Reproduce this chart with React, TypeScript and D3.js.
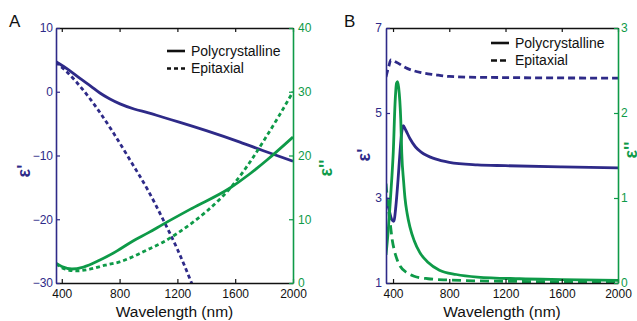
import React, { useRef, useEffect } from 'react';
import * as d3 from 'd3';

type Pt = [number, number];

// panel A: wavelength (nm) vs permittivity
const polyRealA: Pt[] = [
  [360, 4.7], [450, 3.4], [526, 2.1], [600, 0.9], [664, -0.2], [730, -1.1], [803, -1.9],
  [900, -2.7], [1000, -3.3], [1100, -4.0], [1218, -4.8], [1400, -6.1], [1633, -7.9],
  [1800, -9.3], [2000, -10.9],
];
const epiRealA: Pt[] = [
  [360, 4.6], [436, 3.1], [547, 0.3], [650, -2.8], [750, -6.2], [872, -10.7], [1000, -15.6],
  [1100, -20.0], [1200, -24.7], [1300, -30.1],
];
const polyImagA: Pt[] = [
  [360, 3.1], [400, 2.6], [470, 2.2], [550, 2.5], [664, 3.6], [780, 5.0], [893, 6.6],
  [1000, 7.9], [1100, 9.2], [1300, 11.7], [1564, 14.9], [1700, 17.1], [1820, 19.3], [2000, 22.9],
];
const epiImagA: Pt[] = [
  [360, 3.0], [420, 2.2], [500, 1.9], [600, 2.2], [700, 2.8], [800, 3.3], [900, 4.2],
  [1000, 5.3], [1100, 6.4], [1200, 7.8], [1300, 9.4], [1400, 11.2], [1500, 13.3],
  [1600, 15.8], [1700, 18.9], [1800, 22.4], [1900, 26.1], [2000, 30.0],
];

// panel B
const polyRealB: Pt[] = [
  [350, 3.0], [370, 2.75], [390, 2.5], [405, 2.45], [420, 2.8], [435, 3.4], [450, 4.1],
  [462, 4.55], [472, 4.7], [490, 4.6], [520, 4.4], [560, 4.2], [600, 4.08], [700, 3.92],
  [800, 3.84], [1000, 3.78], [1200, 3.76], [1600, 3.73], [2000, 3.71],
];
const epiRealB: Pt[] = [
  [350, 5.85], [370, 6.1], [385, 6.25], [420, 6.2], [500, 6.05], [600, 5.95], [700, 5.9],
  [800, 5.86], [1000, 5.84], [2000, 5.82],
];
const polyImagB: Pt[] = [
  [350, 0.33], [365, 0.6], [378, 0.9], [390, 1.2], [402, 1.55], [414, 2.1], [425, 2.35],
  [432, 2.37], [440, 2.3], [455, 1.92], [462, 1.53], [475, 1.2], [485, 1.0], [500, 0.82],
  [520, 0.66], [550, 0.5], [590, 0.36], [650, 0.24], [730, 0.15], [850, 0.1], [1000, 0.07],
  [1300, 0.05], [1600, 0.04], [2000, 0.03],
];
const epiImagB: Pt[] = [
  [350, 1.17], [365, 0.9], [380, 0.7], [395, 0.5], [410, 0.38], [430, 0.27], [450, 0.2],
  [500, 0.12], [550, 0.08], [650, 0.05], [800, 0.035], [1000, 0.025], [1500, 0.015], [2000, 0.01],
];

const xTicks = [400, 800, 1200, 1600, 2000];
const leftTicksA = [-30, -20, -10, 0, 10];
const rightTicksA = [0, 10, 20, 30, 40];
const leftTicksB = [1, 3, 5, 7];
const rightTicksB = [0, 1, 2, 3];
const legendLabels = ['Polycrystalline', 'Epitaxial'];

const blue = '#2e2a88';
const green = '#0e9a48';
const font = 'Liberation Sans, Arial, sans-serif';
const fmt = d3.format('d');

interface Panel {
  id: string;
  letter: string;
  letterX: number;
  box: { left: number; right: number; top: number; bottom: number };
  xDomain: [number, number];
  yLeft: [number, number];
  yRight: [number, number];
  leftTicks: number[];
  rightTicks: number[];
  leftPad: number;
  rightPad: number;
  series: { data: Pt[]; axis: 'L' | 'R'; dash: string | null }[];
  dash: string;
  legendX: number;
  legendY: number;
  leftLabel: [number, number];
  rightLabel: [number, number];
}

const panels: Panel[] = [
  {
    id: 'A', letter: 'A', letterX: 9,
    box: { left: 56, right: 293, top: 28, bottom: 283 },
    xDomain: [360, 2000], yLeft: [-30, 10], yRight: [0, 40],
    leftTicks: leftTicksA, rightTicks: rightTicksA, leftPad: 3, rightPad: 5,
    series: [
      { data: polyRealA, axis: 'L', dash: null },
      { data: epiRealA, axis: 'L', dash: '4,3' },
      { data: polyImagA, axis: 'R', dash: null },
      { data: epiImagA, axis: 'R', dash: '4,3' },
    ],
    dash: '4,3', legendX: 167, legendY: 51,
    leftLabel: [24, 171], rightLabel: [326, 168],
  },
  {
    id: 'B', letter: 'B', letterX: 344,
    box: { left: 386, right: 618, top: 28, bottom: 283 },
    xDomain: [350, 2000], yLeft: [1, 7], yRight: [0, 3],
    leftTicks: leftTicksB, rightTicks: rightTicksB, leftPad: 4, rightPad: 3,
    series: [
      { data: polyRealB, axis: 'L', dash: null },
      { data: epiRealB, axis: 'L', dash: '7,4' },
      { data: polyImagB, axis: 'R', dash: null },
      { data: epiImagB, axis: 'R', dash: '9,5' },
    ],
    dash: '6,3', legendX: 491, legendY: 43,
    leftLabel: [364, 155], rightLabel: [631, 150],
  },
];

const App: React.FC = () => {
  const svgRef = useRef<SVGSVGElement | null>(null);

  useEffect(() => {
    const svg = d3.select(svgRef.current);
    svg.selectAll('*').remove();

    panels.forEach(p => {
      const { left, right, top, bottom } = p.box;
      const x = d3.scaleLinear().domain(p.xDomain).range([left, right]);
      const yL = d3.scaleLinear().domain(p.yLeft).range([bottom, top]);
      const yR = d3.scaleLinear().domain(p.yRight).range([bottom, top]);

      svg.append('clipPath').attr('id', `clip${p.id}`)
        .append('rect')
        .attr('x', left).attr('y', top)
        .attr('width', right - left).attr('height', bottom - top);

      const g = svg.append('g').attr('clip-path', `url(#clip${p.id})`);
      p.series.forEach(s => {
        const y = s.axis === 'L' ? yL : yR;
        const line = d3.line<Pt>()
          .x(d => x(d[0]))
          .y(d => y(d[1]))
          .curve(d3.curveMonotoneX);
        g.append('path')
          .attr('d', line(s.data))
          .attr('fill', 'none')
          .attr('stroke', s.axis === 'L' ? blue : green)
          .attr('stroke-width', 2.8)
          .attr('stroke-dasharray', s.dash)
          .attr('stroke-linejoin', 'round');
      });

      const style = (sel: d3.Selection<SVGGElement, unknown, null, undefined>, color: string) => {
        sel.attr('color', color)
          .attr('font-family', font)
          .attr('font-size', 12);
        sel.selectAll('path.domain').attr('stroke-width', 1.6);
        sel.selectAll('.tick line').attr('stroke-width', 1.2);
        sel.selectAll('.tick text').attr('fill', color);
      };

      const xBottom = svg.append('g').attr('transform', `translate(0,${bottom})`)
        .call(d3.axisBottom(x).tickValues(xTicks).tickFormat(d => fmt(d as number))
          .tickSizeInner(-4).tickSizeOuter(0).tickPadding(6.5));
      style(xBottom, '#111');

      const xTop = svg.append('g').attr('transform', `translate(0,${top})`)
        .call(d3.axisTop(x).tickValues(xTicks).tickSizeInner(-4).tickSizeOuter(0).tickFormat(() => ''));
      style(xTop, '#111');

      const axL = svg.append('g').attr('transform', `translate(${left},0)`)
        .call(d3.axisLeft(yL).tickValues(p.leftTicks).tickFormat(d => fmt(d as number))
          .tickSizeInner(-4).tickSizeOuter(0).tickPadding(p.leftPad));
      style(axL, blue);

      const axR = svg.append('g').attr('transform', `translate(${right},0)`)
        .call(d3.axisRight(yR).tickValues(p.rightTicks).tickFormat(d => fmt(d as number))
          .tickSizeInner(-4).tickSizeOuter(0).tickPadding(p.rightPad));
      style(axR, green);

      svg.append('text')
        .attr('x', (left + right) / 2).attr('y', 317)
        .attr('text-anchor', 'middle')
        .attr('font-family', font).attr('font-size', 15.5)
        .attr('fill', '#111')
        .text('Wavelength (nm)');

      svg.append('text')
        .attr('x', p.letterX).attr('y', 27)
        .attr('font-family', font).attr('font-size', 17)
        .attr('fill', '#111')
        .text(p.letter);

      svg.append('text')
        .attr('transform', `translate(${p.leftLabel[0]},${p.leftLabel[1]}) rotate(-90)`)
        .attr('text-anchor', 'middle').attr('dy', '0.35em')
        .attr('font-family', font).attr('font-size', 18).attr('font-weight', 'bold')
        .attr('fill', blue)
        .text("ε'");

      svg.append('text')
        .attr('transform', `translate(${p.rightLabel[0]},${p.rightLabel[1]}) rotate(-90)`)
        .attr('text-anchor', 'middle').attr('dy', '0.35em')
        .attr('font-family', font).attr('font-size', 18).attr('font-weight', 'bold')
        .attr('fill', green)
        .text("ε''");

      const legend = svg.append('g').attr('transform', `translate(${p.legendX},${p.legendY})`);
      legendLabels.forEach((label, i) => {
        const ly = i * 17.5;
        legend.append('line')
          .attr('x1', 0).attr('x2', 18).attr('y1', ly).attr('y2', ly)
          .attr('stroke', '#111').attr('stroke-width', 2.6)
          .attr('stroke-dasharray', i === 0 ? null : p.dash);
        legend.append('text')
          .attr('x', 24).attr('y', ly).attr('dy', '0.35em')
          .attr('font-family', font).attr('font-size', 14)
          .attr('fill', '#111')
          .text(label);
      });
    });

    return () => {
      svg.selectAll('*').remove();
    };
  }, []);

  return (
    <svg
      ref={svgRef}
      width={637}
      height={321}
      style={{ position: 'absolute', left: 0, top: 0, background: '#fff' }}
    />
  );
};

export default App;
